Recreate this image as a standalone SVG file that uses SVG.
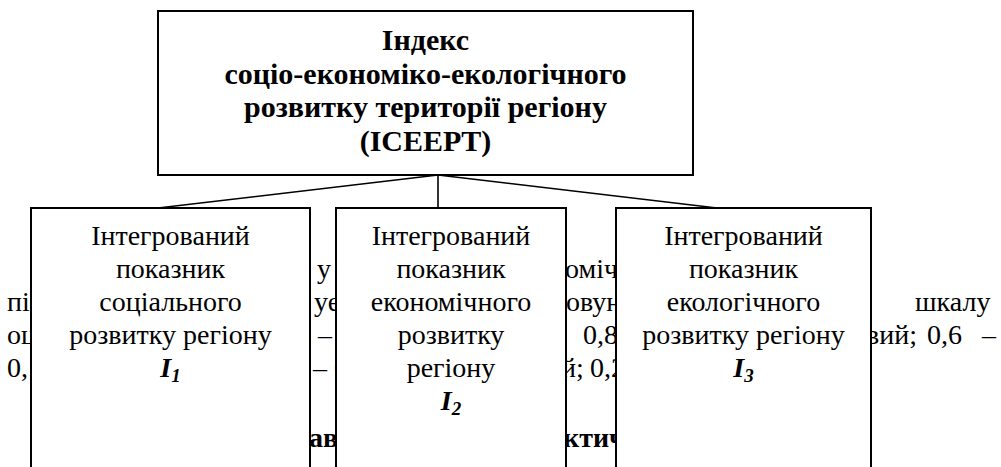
<svg xmlns="http://www.w3.org/2000/svg" width="1001" height="467" viewBox="0 0 1001 467">
<style>
.bg{font-family:Liberation Serif,Times New Roman,DejaVu Serif,serif;font-size:28px;fill:#000}
.bgb{font-family:Liberation Serif,Times New Roman,DejaVu Serif,serif;font-size:28px;font-weight:bold;fill:#000}
.box{fill:#fff;stroke:#000;stroke-width:2}
.t{font-family:Liberation Serif,Times New Roman,DejaVu Serif,serif;font-size:28px;fill:#000;text-anchor:middle}
.tb{font-family:Liberation Serif,Times New Roman,DejaVu Serif,serif;font-size:30px;font-weight:bold;fill:#000;text-anchor:middle}
.idx{font-weight:bold;font-style:italic}
.con{stroke:#000;stroke-width:1.6;fill:none}
</style>
<g id="background-text">
<text class="bg" x="317" y="278">у</text>
<text class="bg" x="565" y="278">оміч</text>
<text class="bg" x="7" y="311">пі</text>
<text class="bg" x="314" y="311">уе</text>
<text class="bg" x="566" y="311">овун</text>
<text class="bg" x="915" y="311">шкалу</text>
<text class="bg" x="7" y="344">оц</text>
<text class="bg" x="318" y="344">–</text>
<text class="bg" x="583" y="344">0,8</text>
<text class="bg" x="866" y="344">вий;</text>
<text class="bg" x="927" y="344">0,6</text>
<text class="bg" x="982" y="344">–</text>
<text class="bg" x="7" y="377">0,</text>
<text class="bg" x="313" y="377">– 0</text>
<text class="bg" x="561" y="377">й;</text>
<text class="bg" x="590" y="377">0,2</text>
<text class="bgb" x="309" y="447">ав</text>
<text class="bgb" x="563" y="447">ктич</text>
</g>
<g id="connectors">
<line class="con" x1="438" y1="175" x2="158" y2="208"/>
<line class="con" x1="438" y1="175" x2="438" y2="208"/>
<line class="con" x1="438" y1="175" x2="717" y2="208"/>
</g>
<g id="node-iseert">
<rect class="box" x="158" y="11" width="535" height="164"/>
<text class="tb" x="425.5" y="50">Індекс</text>
<text class="tb" x="425.5" y="84">соціо-економіко-екологічного</text>
<text class="tb" x="425.5" y="117">розвитку території регіону</text>
<text class="tb" x="425.5" y="151">(ICEEPT)</text>
</g>
<g id="node-i1">
<path class="box" d="M31,468 V208 H310 V468"/>
<text class="t" x="170.5" y="245">Інтегрований</text>
<text class="t" x="170.5" y="278">показник</text>
<text class="t" x="170.5" y="311">соціального</text>
<text class="t" x="170.5" y="344">розвитку регіону</text>
<text class="t" x="170.5" y="377"><tspan class="idx">I</tspan><tspan class="idx" font-size="19" dy="5">1</tspan></text>
</g>
<g id="node-i2">
<path class="box" d="M336,468 V208 H566 V468"/>
<text class="t" x="451" y="245">Інтегрований</text>
<text class="t" x="451" y="278">показник</text>
<text class="t" x="451" y="311">економічного</text>
<text class="t" x="451" y="344">розвитку</text>
<text class="t" x="451" y="377">регіону</text>
<text class="t" x="451" y="410"><tspan class="idx">I</tspan><tspan class="idx" font-size="19" dy="5">2</tspan></text>
</g>
<g id="node-i3">
<path class="box" d="M616,468 V208 H871 V468"/>
<text class="t" x="743.5" y="245">Інтегрований</text>
<text class="t" x="743.5" y="278">показник</text>
<text class="t" x="743.5" y="311">екологічного</text>
<text class="t" x="743.5" y="344">розвитку регіону</text>
<text class="t" x="743.5" y="377"><tspan class="idx">I</tspan><tspan class="idx" font-size="19" dy="5">3</tspan></text>
</g>
</svg>
